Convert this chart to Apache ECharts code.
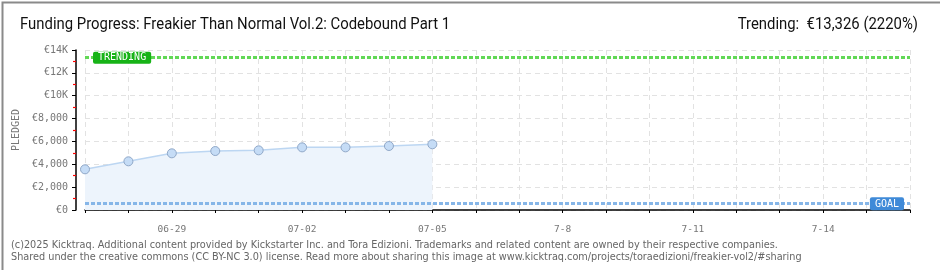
<!DOCTYPE html>
<html><head><meta charset="utf-8">
<script src="https://cdn.jsdelivr.net/npm/echarts@6/dist/echarts.min.js"></script>
<style>html,body{margin:0;padding:0;background:#fff}#c{width:940px;height:270px}</style>
</head><body><div id="c"></div>
<script>
const dates = ["06-27","06-28","06-29","06-30","07-01","07-02","07-03","07-04","07-05","07-06","07-07","07-08","07-09","07-10","07-11","07-12","07-13","07-14","07-15","07-16"];
const xTickLabels = ["","","06-29","","","07-02","","","07-05","","","7-8","","","7-11","","","7-14","",""];
const pledged = [3560, 4260, 4960, 5160, 5220, 5480, 5480, 5600, 5750];
const yTickValues = [0, 2000, 4000, 6000, 8000, 10000, 12000, 14000];
const yTickLabels = ["€0","€2,000","€4,000","€6,000","€8,000","€10K","€12K","€14K"];
const goal = 600;
const trending = 13326;
const titleText = "Funding Progress: Freakier Than Normal Vol.2: Codebound Part 1";
const trendText = "Trending:  €13,326 (2220%)";
const footer1 = "(c)2025 Kicktraq. Additional content provided by Kickstarter Inc. and Tora Edizioni. Trademarks and related content are owned by their respective companies.";
const footer2 = "Shared under the creative commons (CC BY-NC 3.0) license. Read more about sharing this image at www.kicktraq.com/projects/toraedizioni/freakier-vol2/#sharing";

const seriesData = dates.map((d, i) => i < pledged.length ? pledged[i] : null);
const chart = echarts.init(document.getElementById('c'), null, {renderer: 'canvas'});
const axisFont = 'DejaVu Sans Mono';
chart.setOption({
  animation: false,
  backgroundColor: '#fff',
  grid: {left: 85, right: 30, top: 50, bottom: 60},
  xAxis: {
    type: 'category', data: dates, boundaryGap: false, offset: 9,
    axisLine: {lineStyle: {color: '#000', width: 1.5}},
    axisTick: {interval: 0, length: 3, lineStyle: {color: '#000'}},
    axisLabel: {interval: 0, margin: 6, color: '#777', fontFamily: axisFont, fontSize: 9.5,
      formatter: (v, i) => xTickLabels[i]},
    splitLine: {show: true, interval: 0, lineStyle: {color: '#e2e2e2', type: [5, 4]}}
  },
  yAxis: {
    type: 'value', min: 0, max: 14000, interval: 2000, offset: 9,
    name: 'PLEDGED', nameLocation: 'middle', nameGap: 54, nameRotate: 90,
    nameTextStyle: {color: '#777', fontFamily: axisFont, fontSize: 10},
    axisLine: {show: true, lineStyle: {color: '#000', width: 1.5}},
    axisTick: {show: true, length: 4, lineStyle: {color: '#000', width: 1}},
    minorTick: {show: true, splitNumber: 2, length: 3, lineStyle: {color: '#ff0000', width: 1.2}},
    axisLabel: {margin: 8, color: '#777', fontFamily: axisFont, fontSize: 10,
      formatter: v => yTickLabels[yTickValues.indexOf(v)] || ''},
    splitLine: {show: true, lineStyle: {color: '#e2e2e2', type: [5, 4]}}
  },
  series: [{
    type: 'line', data: seriesData, connectNulls: false,
    symbol: 'circle', symbolSize: 9,
    itemStyle: {color: '#c5dcf6', borderColor: '#90a8c8', borderWidth: 1},
    lineStyle: {color: '#bcd6f2', width: 1.5},
    areaStyle: {color: '#edf4fc', opacity: 1},
    z: 3,
    markLine: {
      silent: true, symbol: ['none', 'none'], animation: false,
      data: [
        {yAxis: trending, lineStyle: {color: '#62d856', width: 3, type: [4, 2]},
          label: {show: true, formatter: 'TRENDING', position: 'insideStartTop', distance: [8, -6],
            backgroundColor: '#17b317', color: '#fff', fontFamily: axisFont, fontSize: 10,
            padding: [1, 5, 1, 5], borderRadius: 2}},
        {yAxis: goal, lineStyle: {color: '#86b6e8', width: 3, type: [4, 2]},
          label: {show: true, formatter: 'GOAL', position: 'insideEndTop', distance: [6, -7],
            backgroundColor: '#3f8ad8', color: '#fff', fontFamily: axisFont, fontSize: 10,
            padding: [2, 5, 1, 5], borderRadius: 2}}
      ]
    }
  }],
  graphic: [
    {type: 'rect', left: 0, top: 0, shape: {width: 939, height: 269}, style: {fill: 'none', stroke: '#8a8a8a', lineWidth: 2}, silent: true},
    {type: 'text', x: 20, y: 17, scaleX: 0.93, style: {text: titleText, fill: '#111', font: '16px Roboto'}},
    {type: 'text', x: 918, y: 17, scaleX: 0.93, style: {text: trendText, fill: '#111', font: '16px Roboto', align: 'right'}},
    {type: 'text', left: 11, top: 240, style: {text: footer1, fill: '#666', font: '10.8px "DejaVu Sans Condensed"'}},
    {type: 'text', left: 11, top: 252, style: {text: footer2, fill: '#666', font: '10.8px "DejaVu Sans Condensed"'}}
  ]
});
</script></body></html>
